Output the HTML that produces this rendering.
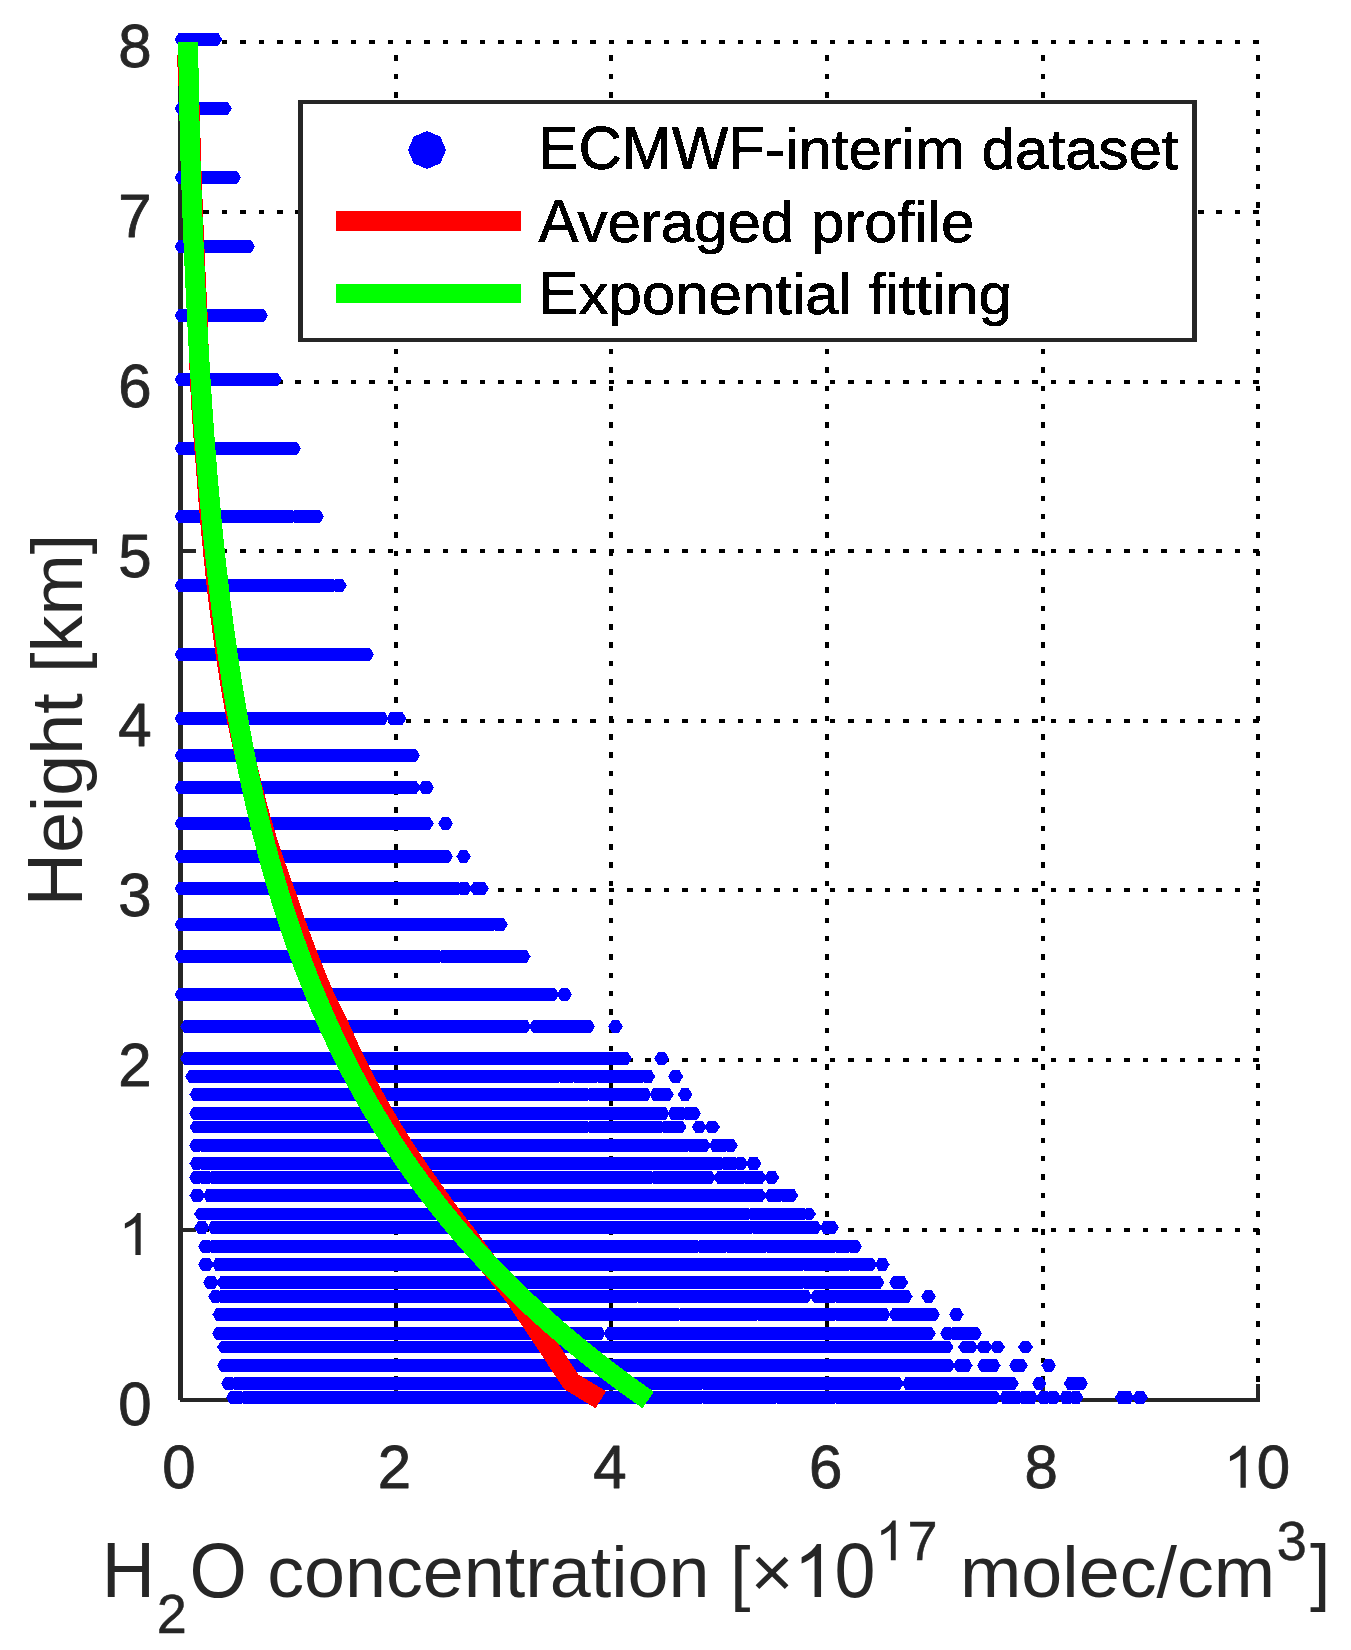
<!DOCTYPE html>
<html lang="en"><head><meta charset="utf-8"><title>H2O concentration profile</title>
<style>html,body{margin:0;padding:0;background:#fff}body{width:1351px;height:1650px;overflow:hidden;font-family:"Liberation Sans",sans-serif}svg{display:block}</style></head>
<body>
<svg width="1351" height="1650" viewBox="0 0 1351 1650" font-family="'Liberation Sans', sans-serif">
<g fill="#000" shape-rendering="crispEdges">
<rect x="184.94" y="1228.00" width="5.50" height="4"/><rect x="203.36" y="1228.00" width="5.50" height="4"/><rect x="221.78" y="1228.00" width="5.50" height="4"/><rect x="240.20" y="1228.00" width="5.50" height="4"/><rect x="258.62" y="1228.00" width="5.50" height="4"/><rect x="277.04" y="1228.00" width="5.50" height="4"/><rect x="295.46" y="1228.00" width="5.50" height="4"/><rect x="313.88" y="1228.00" width="5.50" height="4"/><rect x="332.30" y="1228.00" width="5.50" height="4"/><rect x="350.72" y="1228.00" width="5.50" height="4"/><rect x="369.14" y="1228.00" width="5.50" height="4"/><rect x="387.56" y="1228.00" width="5.50" height="4"/><rect x="405.98" y="1228.00" width="5.50" height="4"/><rect x="424.39" y="1228.00" width="5.50" height="4"/><rect x="442.81" y="1228.00" width="5.50" height="4"/><rect x="461.23" y="1228.00" width="5.50" height="4"/><rect x="479.65" y="1228.00" width="5.50" height="4"/><rect x="498.07" y="1228.00" width="5.50" height="4"/><rect x="516.49" y="1228.00" width="5.50" height="4"/><rect x="534.91" y="1228.00" width="5.50" height="4"/><rect x="553.33" y="1228.00" width="5.50" height="4"/><rect x="571.75" y="1228.00" width="5.50" height="4"/><rect x="590.17" y="1228.00" width="5.50" height="4"/><rect x="608.59" y="1228.00" width="5.50" height="4"/><rect x="627.01" y="1228.00" width="5.50" height="4"/><rect x="645.43" y="1228.00" width="5.50" height="4"/><rect x="663.85" y="1228.00" width="5.50" height="4"/><rect x="682.27" y="1228.00" width="5.50" height="4"/><rect x="700.69" y="1228.00" width="5.50" height="4"/><rect x="719.11" y="1228.00" width="5.50" height="4"/><rect x="737.53" y="1228.00" width="5.50" height="4"/><rect x="755.95" y="1228.00" width="5.50" height="4"/><rect x="774.37" y="1228.00" width="5.50" height="4"/><rect x="792.79" y="1228.00" width="5.50" height="4"/><rect x="811.20" y="1228.00" width="5.50" height="4"/><rect x="829.62" y="1228.00" width="5.50" height="4"/><rect x="848.04" y="1228.00" width="5.50" height="4"/><rect x="866.46" y="1228.00" width="5.50" height="4"/><rect x="884.88" y="1228.00" width="5.50" height="4"/><rect x="903.30" y="1228.00" width="5.50" height="4"/><rect x="921.72" y="1228.00" width="5.50" height="4"/><rect x="940.14" y="1228.00" width="5.50" height="4"/><rect x="958.56" y="1228.00" width="5.50" height="4"/><rect x="976.98" y="1228.00" width="5.50" height="4"/><rect x="995.40" y="1228.00" width="5.50" height="4"/><rect x="1013.82" y="1228.00" width="5.50" height="4"/><rect x="1032.24" y="1228.00" width="5.50" height="4"/><rect x="1050.66" y="1228.00" width="5.50" height="4"/><rect x="1069.08" y="1228.00" width="5.50" height="4"/><rect x="1087.50" y="1228.00" width="5.50" height="4"/><rect x="1105.92" y="1228.00" width="5.50" height="4"/><rect x="1124.34" y="1228.00" width="5.50" height="4"/><rect x="1142.76" y="1228.00" width="5.50" height="4"/><rect x="1161.17" y="1228.00" width="5.50" height="4"/><rect x="1179.59" y="1228.00" width="5.50" height="4"/><rect x="1198.01" y="1228.00" width="5.50" height="4"/><rect x="1216.43" y="1228.00" width="5.50" height="4"/><rect x="1234.85" y="1228.00" width="5.50" height="4"/><rect x="1253.27" y="1228.00" width="5.50" height="4"/>
<rect x="184.94" y="1058.00" width="5.50" height="4"/><rect x="203.36" y="1058.00" width="5.50" height="4"/><rect x="221.78" y="1058.00" width="5.50" height="4"/><rect x="240.20" y="1058.00" width="5.50" height="4"/><rect x="258.62" y="1058.00" width="5.50" height="4"/><rect x="277.04" y="1058.00" width="5.50" height="4"/><rect x="295.46" y="1058.00" width="5.50" height="4"/><rect x="313.88" y="1058.00" width="5.50" height="4"/><rect x="332.30" y="1058.00" width="5.50" height="4"/><rect x="350.72" y="1058.00" width="5.50" height="4"/><rect x="369.14" y="1058.00" width="5.50" height="4"/><rect x="387.56" y="1058.00" width="5.50" height="4"/><rect x="405.98" y="1058.00" width="5.50" height="4"/><rect x="424.39" y="1058.00" width="5.50" height="4"/><rect x="442.81" y="1058.00" width="5.50" height="4"/><rect x="461.23" y="1058.00" width="5.50" height="4"/><rect x="479.65" y="1058.00" width="5.50" height="4"/><rect x="498.07" y="1058.00" width="5.50" height="4"/><rect x="516.49" y="1058.00" width="5.50" height="4"/><rect x="534.91" y="1058.00" width="5.50" height="4"/><rect x="553.33" y="1058.00" width="5.50" height="4"/><rect x="571.75" y="1058.00" width="5.50" height="4"/><rect x="590.17" y="1058.00" width="5.50" height="4"/><rect x="608.59" y="1058.00" width="5.50" height="4"/><rect x="627.01" y="1058.00" width="5.50" height="4"/><rect x="645.43" y="1058.00" width="5.50" height="4"/><rect x="663.85" y="1058.00" width="5.50" height="4"/><rect x="682.27" y="1058.00" width="5.50" height="4"/><rect x="700.69" y="1058.00" width="5.50" height="4"/><rect x="719.11" y="1058.00" width="5.50" height="4"/><rect x="737.53" y="1058.00" width="5.50" height="4"/><rect x="755.95" y="1058.00" width="5.50" height="4"/><rect x="774.37" y="1058.00" width="5.50" height="4"/><rect x="792.79" y="1058.00" width="5.50" height="4"/><rect x="811.20" y="1058.00" width="5.50" height="4"/><rect x="829.62" y="1058.00" width="5.50" height="4"/><rect x="848.04" y="1058.00" width="5.50" height="4"/><rect x="866.46" y="1058.00" width="5.50" height="4"/><rect x="884.88" y="1058.00" width="5.50" height="4"/><rect x="903.30" y="1058.00" width="5.50" height="4"/><rect x="921.72" y="1058.00" width="5.50" height="4"/><rect x="940.14" y="1058.00" width="5.50" height="4"/><rect x="958.56" y="1058.00" width="5.50" height="4"/><rect x="976.98" y="1058.00" width="5.50" height="4"/><rect x="995.40" y="1058.00" width="5.50" height="4"/><rect x="1013.82" y="1058.00" width="5.50" height="4"/><rect x="1032.24" y="1058.00" width="5.50" height="4"/><rect x="1050.66" y="1058.00" width="5.50" height="4"/><rect x="1069.08" y="1058.00" width="5.50" height="4"/><rect x="1087.50" y="1058.00" width="5.50" height="4"/><rect x="1105.92" y="1058.00" width="5.50" height="4"/><rect x="1124.34" y="1058.00" width="5.50" height="4"/><rect x="1142.76" y="1058.00" width="5.50" height="4"/><rect x="1161.17" y="1058.00" width="5.50" height="4"/><rect x="1179.59" y="1058.00" width="5.50" height="4"/><rect x="1198.01" y="1058.00" width="5.50" height="4"/><rect x="1216.43" y="1058.00" width="5.50" height="4"/><rect x="1234.85" y="1058.00" width="5.50" height="4"/><rect x="1253.27" y="1058.00" width="5.50" height="4"/>
<rect x="184.94" y="888.00" width="5.50" height="4"/><rect x="203.36" y="888.00" width="5.50" height="4"/><rect x="221.78" y="888.00" width="5.50" height="4"/><rect x="240.20" y="888.00" width="5.50" height="4"/><rect x="258.62" y="888.00" width="5.50" height="4"/><rect x="277.04" y="888.00" width="5.50" height="4"/><rect x="295.46" y="888.00" width="5.50" height="4"/><rect x="313.88" y="888.00" width="5.50" height="4"/><rect x="332.30" y="888.00" width="5.50" height="4"/><rect x="350.72" y="888.00" width="5.50" height="4"/><rect x="369.14" y="888.00" width="5.50" height="4"/><rect x="387.56" y="888.00" width="5.50" height="4"/><rect x="405.98" y="888.00" width="5.50" height="4"/><rect x="424.39" y="888.00" width="5.50" height="4"/><rect x="442.81" y="888.00" width="5.50" height="4"/><rect x="461.23" y="888.00" width="5.50" height="4"/><rect x="479.65" y="888.00" width="5.50" height="4"/><rect x="498.07" y="888.00" width="5.50" height="4"/><rect x="516.49" y="888.00" width="5.50" height="4"/><rect x="534.91" y="888.00" width="5.50" height="4"/><rect x="553.33" y="888.00" width="5.50" height="4"/><rect x="571.75" y="888.00" width="5.50" height="4"/><rect x="590.17" y="888.00" width="5.50" height="4"/><rect x="608.59" y="888.00" width="5.50" height="4"/><rect x="627.01" y="888.00" width="5.50" height="4"/><rect x="645.43" y="888.00" width="5.50" height="4"/><rect x="663.85" y="888.00" width="5.50" height="4"/><rect x="682.27" y="888.00" width="5.50" height="4"/><rect x="700.69" y="888.00" width="5.50" height="4"/><rect x="719.11" y="888.00" width="5.50" height="4"/><rect x="737.53" y="888.00" width="5.50" height="4"/><rect x="755.95" y="888.00" width="5.50" height="4"/><rect x="774.37" y="888.00" width="5.50" height="4"/><rect x="792.79" y="888.00" width="5.50" height="4"/><rect x="811.20" y="888.00" width="5.50" height="4"/><rect x="829.62" y="888.00" width="5.50" height="4"/><rect x="848.04" y="888.00" width="5.50" height="4"/><rect x="866.46" y="888.00" width="5.50" height="4"/><rect x="884.88" y="888.00" width="5.50" height="4"/><rect x="903.30" y="888.00" width="5.50" height="4"/><rect x="921.72" y="888.00" width="5.50" height="4"/><rect x="940.14" y="888.00" width="5.50" height="4"/><rect x="958.56" y="888.00" width="5.50" height="4"/><rect x="976.98" y="888.00" width="5.50" height="4"/><rect x="995.40" y="888.00" width="5.50" height="4"/><rect x="1013.82" y="888.00" width="5.50" height="4"/><rect x="1032.24" y="888.00" width="5.50" height="4"/><rect x="1050.66" y="888.00" width="5.50" height="4"/><rect x="1069.08" y="888.00" width="5.50" height="4"/><rect x="1087.50" y="888.00" width="5.50" height="4"/><rect x="1105.92" y="888.00" width="5.50" height="4"/><rect x="1124.34" y="888.00" width="5.50" height="4"/><rect x="1142.76" y="888.00" width="5.50" height="4"/><rect x="1161.17" y="888.00" width="5.50" height="4"/><rect x="1179.59" y="888.00" width="5.50" height="4"/><rect x="1198.01" y="888.00" width="5.50" height="4"/><rect x="1216.43" y="888.00" width="5.50" height="4"/><rect x="1234.85" y="888.00" width="5.50" height="4"/><rect x="1253.27" y="888.00" width="5.50" height="4"/>
<rect x="184.94" y="719.00" width="5.50" height="4"/><rect x="203.36" y="719.00" width="5.50" height="4"/><rect x="221.78" y="719.00" width="5.50" height="4"/><rect x="240.20" y="719.00" width="5.50" height="4"/><rect x="258.62" y="719.00" width="5.50" height="4"/><rect x="277.04" y="719.00" width="5.50" height="4"/><rect x="295.46" y="719.00" width="5.50" height="4"/><rect x="313.88" y="719.00" width="5.50" height="4"/><rect x="332.30" y="719.00" width="5.50" height="4"/><rect x="350.72" y="719.00" width="5.50" height="4"/><rect x="369.14" y="719.00" width="5.50" height="4"/><rect x="387.56" y="719.00" width="5.50" height="4"/><rect x="405.98" y="719.00" width="5.50" height="4"/><rect x="424.39" y="719.00" width="5.50" height="4"/><rect x="442.81" y="719.00" width="5.50" height="4"/><rect x="461.23" y="719.00" width="5.50" height="4"/><rect x="479.65" y="719.00" width="5.50" height="4"/><rect x="498.07" y="719.00" width="5.50" height="4"/><rect x="516.49" y="719.00" width="5.50" height="4"/><rect x="534.91" y="719.00" width="5.50" height="4"/><rect x="553.33" y="719.00" width="5.50" height="4"/><rect x="571.75" y="719.00" width="5.50" height="4"/><rect x="590.17" y="719.00" width="5.50" height="4"/><rect x="608.59" y="719.00" width="5.50" height="4"/><rect x="627.01" y="719.00" width="5.50" height="4"/><rect x="645.43" y="719.00" width="5.50" height="4"/><rect x="663.85" y="719.00" width="5.50" height="4"/><rect x="682.27" y="719.00" width="5.50" height="4"/><rect x="700.69" y="719.00" width="5.50" height="4"/><rect x="719.11" y="719.00" width="5.50" height="4"/><rect x="737.53" y="719.00" width="5.50" height="4"/><rect x="755.95" y="719.00" width="5.50" height="4"/><rect x="774.37" y="719.00" width="5.50" height="4"/><rect x="792.79" y="719.00" width="5.50" height="4"/><rect x="811.20" y="719.00" width="5.50" height="4"/><rect x="829.62" y="719.00" width="5.50" height="4"/><rect x="848.04" y="719.00" width="5.50" height="4"/><rect x="866.46" y="719.00" width="5.50" height="4"/><rect x="884.88" y="719.00" width="5.50" height="4"/><rect x="903.30" y="719.00" width="5.50" height="4"/><rect x="921.72" y="719.00" width="5.50" height="4"/><rect x="940.14" y="719.00" width="5.50" height="4"/><rect x="958.56" y="719.00" width="5.50" height="4"/><rect x="976.98" y="719.00" width="5.50" height="4"/><rect x="995.40" y="719.00" width="5.50" height="4"/><rect x="1013.82" y="719.00" width="5.50" height="4"/><rect x="1032.24" y="719.00" width="5.50" height="4"/><rect x="1050.66" y="719.00" width="5.50" height="4"/><rect x="1069.08" y="719.00" width="5.50" height="4"/><rect x="1087.50" y="719.00" width="5.50" height="4"/><rect x="1105.92" y="719.00" width="5.50" height="4"/><rect x="1124.34" y="719.00" width="5.50" height="4"/><rect x="1142.76" y="719.00" width="5.50" height="4"/><rect x="1161.17" y="719.00" width="5.50" height="4"/><rect x="1179.59" y="719.00" width="5.50" height="4"/><rect x="1198.01" y="719.00" width="5.50" height="4"/><rect x="1216.43" y="719.00" width="5.50" height="4"/><rect x="1234.85" y="719.00" width="5.50" height="4"/><rect x="1253.27" y="719.00" width="5.50" height="4"/>
<rect x="184.94" y="549.00" width="5.50" height="4"/><rect x="203.36" y="549.00" width="5.50" height="4"/><rect x="221.78" y="549.00" width="5.50" height="4"/><rect x="240.20" y="549.00" width="5.50" height="4"/><rect x="258.62" y="549.00" width="5.50" height="4"/><rect x="277.04" y="549.00" width="5.50" height="4"/><rect x="295.46" y="549.00" width="5.50" height="4"/><rect x="313.88" y="549.00" width="5.50" height="4"/><rect x="332.30" y="549.00" width="5.50" height="4"/><rect x="350.72" y="549.00" width="5.50" height="4"/><rect x="369.14" y="549.00" width="5.50" height="4"/><rect x="387.56" y="549.00" width="5.50" height="4"/><rect x="405.98" y="549.00" width="5.50" height="4"/><rect x="424.39" y="549.00" width="5.50" height="4"/><rect x="442.81" y="549.00" width="5.50" height="4"/><rect x="461.23" y="549.00" width="5.50" height="4"/><rect x="479.65" y="549.00" width="5.50" height="4"/><rect x="498.07" y="549.00" width="5.50" height="4"/><rect x="516.49" y="549.00" width="5.50" height="4"/><rect x="534.91" y="549.00" width="5.50" height="4"/><rect x="553.33" y="549.00" width="5.50" height="4"/><rect x="571.75" y="549.00" width="5.50" height="4"/><rect x="590.17" y="549.00" width="5.50" height="4"/><rect x="608.59" y="549.00" width="5.50" height="4"/><rect x="627.01" y="549.00" width="5.50" height="4"/><rect x="645.43" y="549.00" width="5.50" height="4"/><rect x="663.85" y="549.00" width="5.50" height="4"/><rect x="682.27" y="549.00" width="5.50" height="4"/><rect x="700.69" y="549.00" width="5.50" height="4"/><rect x="719.11" y="549.00" width="5.50" height="4"/><rect x="737.53" y="549.00" width="5.50" height="4"/><rect x="755.95" y="549.00" width="5.50" height="4"/><rect x="774.37" y="549.00" width="5.50" height="4"/><rect x="792.79" y="549.00" width="5.50" height="4"/><rect x="811.20" y="549.00" width="5.50" height="4"/><rect x="829.62" y="549.00" width="5.50" height="4"/><rect x="848.04" y="549.00" width="5.50" height="4"/><rect x="866.46" y="549.00" width="5.50" height="4"/><rect x="884.88" y="549.00" width="5.50" height="4"/><rect x="903.30" y="549.00" width="5.50" height="4"/><rect x="921.72" y="549.00" width="5.50" height="4"/><rect x="940.14" y="549.00" width="5.50" height="4"/><rect x="958.56" y="549.00" width="5.50" height="4"/><rect x="976.98" y="549.00" width="5.50" height="4"/><rect x="995.40" y="549.00" width="5.50" height="4"/><rect x="1013.82" y="549.00" width="5.50" height="4"/><rect x="1032.24" y="549.00" width="5.50" height="4"/><rect x="1050.66" y="549.00" width="5.50" height="4"/><rect x="1069.08" y="549.00" width="5.50" height="4"/><rect x="1087.50" y="549.00" width="5.50" height="4"/><rect x="1105.92" y="549.00" width="5.50" height="4"/><rect x="1124.34" y="549.00" width="5.50" height="4"/><rect x="1142.76" y="549.00" width="5.50" height="4"/><rect x="1161.17" y="549.00" width="5.50" height="4"/><rect x="1179.59" y="549.00" width="5.50" height="4"/><rect x="1198.01" y="549.00" width="5.50" height="4"/><rect x="1216.43" y="549.00" width="5.50" height="4"/><rect x="1234.85" y="549.00" width="5.50" height="4"/><rect x="1253.27" y="549.00" width="5.50" height="4"/>
<rect x="184.94" y="380.00" width="5.50" height="4"/><rect x="203.36" y="380.00" width="5.50" height="4"/><rect x="221.78" y="380.00" width="5.50" height="4"/><rect x="240.20" y="380.00" width="5.50" height="4"/><rect x="258.62" y="380.00" width="5.50" height="4"/><rect x="277.04" y="380.00" width="5.50" height="4"/><rect x="295.46" y="380.00" width="5.50" height="4"/><rect x="313.88" y="380.00" width="5.50" height="4"/><rect x="332.30" y="380.00" width="5.50" height="4"/><rect x="350.72" y="380.00" width="5.50" height="4"/><rect x="369.14" y="380.00" width="5.50" height="4"/><rect x="387.56" y="380.00" width="5.50" height="4"/><rect x="405.98" y="380.00" width="5.50" height="4"/><rect x="424.39" y="380.00" width="5.50" height="4"/><rect x="442.81" y="380.00" width="5.50" height="4"/><rect x="461.23" y="380.00" width="5.50" height="4"/><rect x="479.65" y="380.00" width="5.50" height="4"/><rect x="498.07" y="380.00" width="5.50" height="4"/><rect x="516.49" y="380.00" width="5.50" height="4"/><rect x="534.91" y="380.00" width="5.50" height="4"/><rect x="553.33" y="380.00" width="5.50" height="4"/><rect x="571.75" y="380.00" width="5.50" height="4"/><rect x="590.17" y="380.00" width="5.50" height="4"/><rect x="608.59" y="380.00" width="5.50" height="4"/><rect x="627.01" y="380.00" width="5.50" height="4"/><rect x="645.43" y="380.00" width="5.50" height="4"/><rect x="663.85" y="380.00" width="5.50" height="4"/><rect x="682.27" y="380.00" width="5.50" height="4"/><rect x="700.69" y="380.00" width="5.50" height="4"/><rect x="719.11" y="380.00" width="5.50" height="4"/><rect x="737.53" y="380.00" width="5.50" height="4"/><rect x="755.95" y="380.00" width="5.50" height="4"/><rect x="774.37" y="380.00" width="5.50" height="4"/><rect x="792.79" y="380.00" width="5.50" height="4"/><rect x="811.20" y="380.00" width="5.50" height="4"/><rect x="829.62" y="380.00" width="5.50" height="4"/><rect x="848.04" y="380.00" width="5.50" height="4"/><rect x="866.46" y="380.00" width="5.50" height="4"/><rect x="884.88" y="380.00" width="5.50" height="4"/><rect x="903.30" y="380.00" width="5.50" height="4"/><rect x="921.72" y="380.00" width="5.50" height="4"/><rect x="940.14" y="380.00" width="5.50" height="4"/><rect x="958.56" y="380.00" width="5.50" height="4"/><rect x="976.98" y="380.00" width="5.50" height="4"/><rect x="995.40" y="380.00" width="5.50" height="4"/><rect x="1013.82" y="380.00" width="5.50" height="4"/><rect x="1032.24" y="380.00" width="5.50" height="4"/><rect x="1050.66" y="380.00" width="5.50" height="4"/><rect x="1069.08" y="380.00" width="5.50" height="4"/><rect x="1087.50" y="380.00" width="5.50" height="4"/><rect x="1105.92" y="380.00" width="5.50" height="4"/><rect x="1124.34" y="380.00" width="5.50" height="4"/><rect x="1142.76" y="380.00" width="5.50" height="4"/><rect x="1161.17" y="380.00" width="5.50" height="4"/><rect x="1179.59" y="380.00" width="5.50" height="4"/><rect x="1198.01" y="380.00" width="5.50" height="4"/><rect x="1216.43" y="380.00" width="5.50" height="4"/><rect x="1234.85" y="380.00" width="5.50" height="4"/><rect x="1253.27" y="380.00" width="5.50" height="4"/>
<rect x="184.94" y="210.00" width="5.50" height="4"/><rect x="203.36" y="210.00" width="5.50" height="4"/><rect x="221.78" y="210.00" width="5.50" height="4"/><rect x="240.20" y="210.00" width="5.50" height="4"/><rect x="258.62" y="210.00" width="5.50" height="4"/><rect x="277.04" y="210.00" width="5.50" height="4"/><rect x="295.46" y="210.00" width="5.50" height="4"/><rect x="313.88" y="210.00" width="5.50" height="4"/><rect x="332.30" y="210.00" width="5.50" height="4"/><rect x="350.72" y="210.00" width="5.50" height="4"/><rect x="369.14" y="210.00" width="5.50" height="4"/><rect x="387.56" y="210.00" width="5.50" height="4"/><rect x="405.98" y="210.00" width="5.50" height="4"/><rect x="424.39" y="210.00" width="5.50" height="4"/><rect x="442.81" y="210.00" width="5.50" height="4"/><rect x="461.23" y="210.00" width="5.50" height="4"/><rect x="479.65" y="210.00" width="5.50" height="4"/><rect x="498.07" y="210.00" width="5.50" height="4"/><rect x="516.49" y="210.00" width="5.50" height="4"/><rect x="534.91" y="210.00" width="5.50" height="4"/><rect x="553.33" y="210.00" width="5.50" height="4"/><rect x="571.75" y="210.00" width="5.50" height="4"/><rect x="590.17" y="210.00" width="5.50" height="4"/><rect x="608.59" y="210.00" width="5.50" height="4"/><rect x="627.01" y="210.00" width="5.50" height="4"/><rect x="645.43" y="210.00" width="5.50" height="4"/><rect x="663.85" y="210.00" width="5.50" height="4"/><rect x="682.27" y="210.00" width="5.50" height="4"/><rect x="700.69" y="210.00" width="5.50" height="4"/><rect x="719.11" y="210.00" width="5.50" height="4"/><rect x="737.53" y="210.00" width="5.50" height="4"/><rect x="755.95" y="210.00" width="5.50" height="4"/><rect x="774.37" y="210.00" width="5.50" height="4"/><rect x="792.79" y="210.00" width="5.50" height="4"/><rect x="811.20" y="210.00" width="5.50" height="4"/><rect x="829.62" y="210.00" width="5.50" height="4"/><rect x="848.04" y="210.00" width="5.50" height="4"/><rect x="866.46" y="210.00" width="5.50" height="4"/><rect x="884.88" y="210.00" width="5.50" height="4"/><rect x="903.30" y="210.00" width="5.50" height="4"/><rect x="921.72" y="210.00" width="5.50" height="4"/><rect x="940.14" y="210.00" width="5.50" height="4"/><rect x="958.56" y="210.00" width="5.50" height="4"/><rect x="976.98" y="210.00" width="5.50" height="4"/><rect x="995.40" y="210.00" width="5.50" height="4"/><rect x="1013.82" y="210.00" width="5.50" height="4"/><rect x="1032.24" y="210.00" width="5.50" height="4"/><rect x="1050.66" y="210.00" width="5.50" height="4"/><rect x="1069.08" y="210.00" width="5.50" height="4"/><rect x="1087.50" y="210.00" width="5.50" height="4"/><rect x="1105.92" y="210.00" width="5.50" height="4"/><rect x="1124.34" y="210.00" width="5.50" height="4"/><rect x="1142.76" y="210.00" width="5.50" height="4"/><rect x="1161.17" y="210.00" width="5.50" height="4"/><rect x="1179.59" y="210.00" width="5.50" height="4"/><rect x="1198.01" y="210.00" width="5.50" height="4"/><rect x="1216.43" y="210.00" width="5.50" height="4"/><rect x="1234.85" y="210.00" width="5.50" height="4"/><rect x="1253.27" y="210.00" width="5.50" height="4"/>
<rect x="184.94" y="40.00" width="5.50" height="4"/><rect x="203.36" y="40.00" width="5.50" height="4"/><rect x="221.78" y="40.00" width="5.50" height="4"/><rect x="240.20" y="40.00" width="5.50" height="4"/><rect x="258.62" y="40.00" width="5.50" height="4"/><rect x="277.04" y="40.00" width="5.50" height="4"/><rect x="295.46" y="40.00" width="5.50" height="4"/><rect x="313.88" y="40.00" width="5.50" height="4"/><rect x="332.30" y="40.00" width="5.50" height="4"/><rect x="350.72" y="40.00" width="5.50" height="4"/><rect x="369.14" y="40.00" width="5.50" height="4"/><rect x="387.56" y="40.00" width="5.50" height="4"/><rect x="405.98" y="40.00" width="5.50" height="4"/><rect x="424.39" y="40.00" width="5.50" height="4"/><rect x="442.81" y="40.00" width="5.50" height="4"/><rect x="461.23" y="40.00" width="5.50" height="4"/><rect x="479.65" y="40.00" width="5.50" height="4"/><rect x="498.07" y="40.00" width="5.50" height="4"/><rect x="516.49" y="40.00" width="5.50" height="4"/><rect x="534.91" y="40.00" width="5.50" height="4"/><rect x="553.33" y="40.00" width="5.50" height="4"/><rect x="571.75" y="40.00" width="5.50" height="4"/><rect x="590.17" y="40.00" width="5.50" height="4"/><rect x="608.59" y="40.00" width="5.50" height="4"/><rect x="627.01" y="40.00" width="5.50" height="4"/><rect x="645.43" y="40.00" width="5.50" height="4"/><rect x="663.85" y="40.00" width="5.50" height="4"/><rect x="682.27" y="40.00" width="5.50" height="4"/><rect x="700.69" y="40.00" width="5.50" height="4"/><rect x="719.11" y="40.00" width="5.50" height="4"/><rect x="737.53" y="40.00" width="5.50" height="4"/><rect x="755.95" y="40.00" width="5.50" height="4"/><rect x="774.37" y="40.00" width="5.50" height="4"/><rect x="792.79" y="40.00" width="5.50" height="4"/><rect x="811.20" y="40.00" width="5.50" height="4"/><rect x="829.62" y="40.00" width="5.50" height="4"/><rect x="848.04" y="40.00" width="5.50" height="4"/><rect x="866.46" y="40.00" width="5.50" height="4"/><rect x="884.88" y="40.00" width="5.50" height="4"/><rect x="903.30" y="40.00" width="5.50" height="4"/><rect x="921.72" y="40.00" width="5.50" height="4"/><rect x="940.14" y="40.00" width="5.50" height="4"/><rect x="958.56" y="40.00" width="5.50" height="4"/><rect x="976.98" y="40.00" width="5.50" height="4"/><rect x="995.40" y="40.00" width="5.50" height="4"/><rect x="1013.82" y="40.00" width="5.50" height="4"/><rect x="1032.24" y="40.00" width="5.50" height="4"/><rect x="1050.66" y="40.00" width="5.50" height="4"/><rect x="1069.08" y="40.00" width="5.50" height="4"/><rect x="1087.50" y="40.00" width="5.50" height="4"/><rect x="1105.92" y="40.00" width="5.50" height="4"/><rect x="1124.34" y="40.00" width="5.50" height="4"/><rect x="1142.76" y="40.00" width="5.50" height="4"/><rect x="1161.17" y="40.00" width="5.50" height="4"/><rect x="1179.59" y="40.00" width="5.50" height="4"/><rect x="1198.01" y="40.00" width="5.50" height="4"/><rect x="1216.43" y="40.00" width="5.50" height="4"/><rect x="1234.85" y="40.00" width="5.50" height="4"/><rect x="1253.27" y="40.00" width="5.50" height="4"/>
<rect x="394.00" y="55.40" width="4" height="5.50"/><rect x="394.00" y="73.74" width="4" height="5.50"/><rect x="394.00" y="92.09" width="4" height="5.50"/><rect x="394.00" y="110.43" width="4" height="5.50"/><rect x="394.00" y="128.77" width="4" height="5.50"/><rect x="394.00" y="147.12" width="4" height="5.50"/><rect x="394.00" y="165.46" width="4" height="5.50"/><rect x="394.00" y="183.80" width="4" height="5.50"/><rect x="394.00" y="202.14" width="4" height="5.50"/><rect x="394.00" y="220.49" width="4" height="5.50"/><rect x="394.00" y="238.83" width="4" height="5.50"/><rect x="394.00" y="257.17" width="4" height="5.50"/><rect x="394.00" y="275.52" width="4" height="5.50"/><rect x="394.00" y="293.86" width="4" height="5.50"/><rect x="394.00" y="312.20" width="4" height="5.50"/><rect x="394.00" y="330.54" width="4" height="5.50"/><rect x="394.00" y="348.89" width="4" height="5.50"/><rect x="394.00" y="367.23" width="4" height="5.50"/><rect x="394.00" y="385.57" width="4" height="5.50"/><rect x="394.00" y="403.92" width="4" height="5.50"/><rect x="394.00" y="422.26" width="4" height="5.50"/><rect x="394.00" y="440.60" width="4" height="5.50"/><rect x="394.00" y="458.95" width="4" height="5.50"/><rect x="394.00" y="477.29" width="4" height="5.50"/><rect x="394.00" y="495.63" width="4" height="5.50"/><rect x="394.00" y="513.98" width="4" height="5.50"/><rect x="394.00" y="532.32" width="4" height="5.50"/><rect x="394.00" y="550.66" width="4" height="5.50"/><rect x="394.00" y="569.00" width="4" height="5.50"/><rect x="394.00" y="587.35" width="4" height="5.50"/><rect x="394.00" y="605.69" width="4" height="5.50"/><rect x="394.00" y="624.03" width="4" height="5.50"/><rect x="394.00" y="642.38" width="4" height="5.50"/><rect x="394.00" y="660.72" width="4" height="5.50"/><rect x="394.00" y="679.06" width="4" height="5.50"/><rect x="394.00" y="697.40" width="4" height="5.50"/><rect x="394.00" y="715.75" width="4" height="5.50"/><rect x="394.00" y="734.09" width="4" height="5.50"/><rect x="394.00" y="752.43" width="4" height="5.50"/><rect x="394.00" y="770.78" width="4" height="5.50"/><rect x="394.00" y="789.12" width="4" height="5.50"/><rect x="394.00" y="807.46" width="4" height="5.50"/><rect x="394.00" y="825.81" width="4" height="5.50"/><rect x="394.00" y="844.15" width="4" height="5.50"/><rect x="394.00" y="862.49" width="4" height="5.50"/><rect x="394.00" y="880.83" width="4" height="5.50"/><rect x="394.00" y="899.18" width="4" height="5.50"/><rect x="394.00" y="917.52" width="4" height="5.50"/><rect x="394.00" y="935.86" width="4" height="5.50"/><rect x="394.00" y="954.21" width="4" height="5.50"/><rect x="394.00" y="972.55" width="4" height="5.50"/><rect x="394.00" y="990.89" width="4" height="5.50"/><rect x="394.00" y="1009.24" width="4" height="5.50"/><rect x="394.00" y="1027.58" width="4" height="5.50"/><rect x="394.00" y="1045.92" width="4" height="5.50"/><rect x="394.00" y="1064.27" width="4" height="5.50"/><rect x="394.00" y="1082.61" width="4" height="5.50"/><rect x="394.00" y="1100.95" width="4" height="5.50"/><rect x="394.00" y="1119.29" width="4" height="5.50"/><rect x="394.00" y="1137.64" width="4" height="5.50"/><rect x="394.00" y="1155.98" width="4" height="5.50"/><rect x="394.00" y="1174.32" width="4" height="5.50"/><rect x="394.00" y="1192.67" width="4" height="5.50"/><rect x="394.00" y="1211.01" width="4" height="5.50"/><rect x="394.00" y="1229.35" width="4" height="5.50"/><rect x="394.00" y="1247.70" width="4" height="5.50"/><rect x="394.00" y="1266.04" width="4" height="5.50"/><rect x="394.00" y="1284.38" width="4" height="5.50"/><rect x="394.00" y="1302.72" width="4" height="5.50"/><rect x="394.00" y="1321.07" width="4" height="5.50"/><rect x="394.00" y="1339.41" width="4" height="5.50"/><rect x="394.00" y="1357.75" width="4" height="5.50"/><rect x="394.00" y="1376.10" width="4" height="5.50"/><rect x="394.00" y="1394.44" width="4" height="3.56"/>
<rect x="609.00" y="55.40" width="4" height="5.50"/><rect x="609.00" y="73.74" width="4" height="5.50"/><rect x="609.00" y="92.09" width="4" height="5.50"/><rect x="609.00" y="110.43" width="4" height="5.50"/><rect x="609.00" y="128.77" width="4" height="5.50"/><rect x="609.00" y="147.12" width="4" height="5.50"/><rect x="609.00" y="165.46" width="4" height="5.50"/><rect x="609.00" y="183.80" width="4" height="5.50"/><rect x="609.00" y="202.14" width="4" height="5.50"/><rect x="609.00" y="220.49" width="4" height="5.50"/><rect x="609.00" y="238.83" width="4" height="5.50"/><rect x="609.00" y="257.17" width="4" height="5.50"/><rect x="609.00" y="275.52" width="4" height="5.50"/><rect x="609.00" y="293.86" width="4" height="5.50"/><rect x="609.00" y="312.20" width="4" height="5.50"/><rect x="609.00" y="330.54" width="4" height="5.50"/><rect x="609.00" y="348.89" width="4" height="5.50"/><rect x="609.00" y="367.23" width="4" height="5.50"/><rect x="609.00" y="385.57" width="4" height="5.50"/><rect x="609.00" y="403.92" width="4" height="5.50"/><rect x="609.00" y="422.26" width="4" height="5.50"/><rect x="609.00" y="440.60" width="4" height="5.50"/><rect x="609.00" y="458.95" width="4" height="5.50"/><rect x="609.00" y="477.29" width="4" height="5.50"/><rect x="609.00" y="495.63" width="4" height="5.50"/><rect x="609.00" y="513.98" width="4" height="5.50"/><rect x="609.00" y="532.32" width="4" height="5.50"/><rect x="609.00" y="550.66" width="4" height="5.50"/><rect x="609.00" y="569.00" width="4" height="5.50"/><rect x="609.00" y="587.35" width="4" height="5.50"/><rect x="609.00" y="605.69" width="4" height="5.50"/><rect x="609.00" y="624.03" width="4" height="5.50"/><rect x="609.00" y="642.38" width="4" height="5.50"/><rect x="609.00" y="660.72" width="4" height="5.50"/><rect x="609.00" y="679.06" width="4" height="5.50"/><rect x="609.00" y="697.40" width="4" height="5.50"/><rect x="609.00" y="715.75" width="4" height="5.50"/><rect x="609.00" y="734.09" width="4" height="5.50"/><rect x="609.00" y="752.43" width="4" height="5.50"/><rect x="609.00" y="770.78" width="4" height="5.50"/><rect x="609.00" y="789.12" width="4" height="5.50"/><rect x="609.00" y="807.46" width="4" height="5.50"/><rect x="609.00" y="825.81" width="4" height="5.50"/><rect x="609.00" y="844.15" width="4" height="5.50"/><rect x="609.00" y="862.49" width="4" height="5.50"/><rect x="609.00" y="880.83" width="4" height="5.50"/><rect x="609.00" y="899.18" width="4" height="5.50"/><rect x="609.00" y="917.52" width="4" height="5.50"/><rect x="609.00" y="935.86" width="4" height="5.50"/><rect x="609.00" y="954.21" width="4" height="5.50"/><rect x="609.00" y="972.55" width="4" height="5.50"/><rect x="609.00" y="990.89" width="4" height="5.50"/><rect x="609.00" y="1009.24" width="4" height="5.50"/><rect x="609.00" y="1027.58" width="4" height="5.50"/><rect x="609.00" y="1045.92" width="4" height="5.50"/><rect x="609.00" y="1064.27" width="4" height="5.50"/><rect x="609.00" y="1082.61" width="4" height="5.50"/><rect x="609.00" y="1100.95" width="4" height="5.50"/><rect x="609.00" y="1119.29" width="4" height="5.50"/><rect x="609.00" y="1137.64" width="4" height="5.50"/><rect x="609.00" y="1155.98" width="4" height="5.50"/><rect x="609.00" y="1174.32" width="4" height="5.50"/><rect x="609.00" y="1192.67" width="4" height="5.50"/><rect x="609.00" y="1211.01" width="4" height="5.50"/><rect x="609.00" y="1229.35" width="4" height="5.50"/><rect x="609.00" y="1247.70" width="4" height="5.50"/><rect x="609.00" y="1266.04" width="4" height="5.50"/><rect x="609.00" y="1284.38" width="4" height="5.50"/><rect x="609.00" y="1302.72" width="4" height="5.50"/><rect x="609.00" y="1321.07" width="4" height="5.50"/><rect x="609.00" y="1339.41" width="4" height="5.50"/><rect x="609.00" y="1357.75" width="4" height="5.50"/><rect x="609.00" y="1376.10" width="4" height="5.50"/><rect x="609.00" y="1394.44" width="4" height="3.56"/>
<rect x="825.00" y="55.40" width="4" height="5.50"/><rect x="825.00" y="73.74" width="4" height="5.50"/><rect x="825.00" y="92.09" width="4" height="5.50"/><rect x="825.00" y="110.43" width="4" height="5.50"/><rect x="825.00" y="128.77" width="4" height="5.50"/><rect x="825.00" y="147.12" width="4" height="5.50"/><rect x="825.00" y="165.46" width="4" height="5.50"/><rect x="825.00" y="183.80" width="4" height="5.50"/><rect x="825.00" y="202.14" width="4" height="5.50"/><rect x="825.00" y="220.49" width="4" height="5.50"/><rect x="825.00" y="238.83" width="4" height="5.50"/><rect x="825.00" y="257.17" width="4" height="5.50"/><rect x="825.00" y="275.52" width="4" height="5.50"/><rect x="825.00" y="293.86" width="4" height="5.50"/><rect x="825.00" y="312.20" width="4" height="5.50"/><rect x="825.00" y="330.54" width="4" height="5.50"/><rect x="825.00" y="348.89" width="4" height="5.50"/><rect x="825.00" y="367.23" width="4" height="5.50"/><rect x="825.00" y="385.57" width="4" height="5.50"/><rect x="825.00" y="403.92" width="4" height="5.50"/><rect x="825.00" y="422.26" width="4" height="5.50"/><rect x="825.00" y="440.60" width="4" height="5.50"/><rect x="825.00" y="458.95" width="4" height="5.50"/><rect x="825.00" y="477.29" width="4" height="5.50"/><rect x="825.00" y="495.63" width="4" height="5.50"/><rect x="825.00" y="513.98" width="4" height="5.50"/><rect x="825.00" y="532.32" width="4" height="5.50"/><rect x="825.00" y="550.66" width="4" height="5.50"/><rect x="825.00" y="569.00" width="4" height="5.50"/><rect x="825.00" y="587.35" width="4" height="5.50"/><rect x="825.00" y="605.69" width="4" height="5.50"/><rect x="825.00" y="624.03" width="4" height="5.50"/><rect x="825.00" y="642.38" width="4" height="5.50"/><rect x="825.00" y="660.72" width="4" height="5.50"/><rect x="825.00" y="679.06" width="4" height="5.50"/><rect x="825.00" y="697.40" width="4" height="5.50"/><rect x="825.00" y="715.75" width="4" height="5.50"/><rect x="825.00" y="734.09" width="4" height="5.50"/><rect x="825.00" y="752.43" width="4" height="5.50"/><rect x="825.00" y="770.78" width="4" height="5.50"/><rect x="825.00" y="789.12" width="4" height="5.50"/><rect x="825.00" y="807.46" width="4" height="5.50"/><rect x="825.00" y="825.81" width="4" height="5.50"/><rect x="825.00" y="844.15" width="4" height="5.50"/><rect x="825.00" y="862.49" width="4" height="5.50"/><rect x="825.00" y="880.83" width="4" height="5.50"/><rect x="825.00" y="899.18" width="4" height="5.50"/><rect x="825.00" y="917.52" width="4" height="5.50"/><rect x="825.00" y="935.86" width="4" height="5.50"/><rect x="825.00" y="954.21" width="4" height="5.50"/><rect x="825.00" y="972.55" width="4" height="5.50"/><rect x="825.00" y="990.89" width="4" height="5.50"/><rect x="825.00" y="1009.24" width="4" height="5.50"/><rect x="825.00" y="1027.58" width="4" height="5.50"/><rect x="825.00" y="1045.92" width="4" height="5.50"/><rect x="825.00" y="1064.27" width="4" height="5.50"/><rect x="825.00" y="1082.61" width="4" height="5.50"/><rect x="825.00" y="1100.95" width="4" height="5.50"/><rect x="825.00" y="1119.29" width="4" height="5.50"/><rect x="825.00" y="1137.64" width="4" height="5.50"/><rect x="825.00" y="1155.98" width="4" height="5.50"/><rect x="825.00" y="1174.32" width="4" height="5.50"/><rect x="825.00" y="1192.67" width="4" height="5.50"/><rect x="825.00" y="1211.01" width="4" height="5.50"/><rect x="825.00" y="1229.35" width="4" height="5.50"/><rect x="825.00" y="1247.70" width="4" height="5.50"/><rect x="825.00" y="1266.04" width="4" height="5.50"/><rect x="825.00" y="1284.38" width="4" height="5.50"/><rect x="825.00" y="1302.72" width="4" height="5.50"/><rect x="825.00" y="1321.07" width="4" height="5.50"/><rect x="825.00" y="1339.41" width="4" height="5.50"/><rect x="825.00" y="1357.75" width="4" height="5.50"/><rect x="825.00" y="1376.10" width="4" height="5.50"/><rect x="825.00" y="1394.44" width="4" height="3.56"/>
<rect x="1041.00" y="55.40" width="4" height="5.50"/><rect x="1041.00" y="73.74" width="4" height="5.50"/><rect x="1041.00" y="92.09" width="4" height="5.50"/><rect x="1041.00" y="110.43" width="4" height="5.50"/><rect x="1041.00" y="128.77" width="4" height="5.50"/><rect x="1041.00" y="147.12" width="4" height="5.50"/><rect x="1041.00" y="165.46" width="4" height="5.50"/><rect x="1041.00" y="183.80" width="4" height="5.50"/><rect x="1041.00" y="202.14" width="4" height="5.50"/><rect x="1041.00" y="220.49" width="4" height="5.50"/><rect x="1041.00" y="238.83" width="4" height="5.50"/><rect x="1041.00" y="257.17" width="4" height="5.50"/><rect x="1041.00" y="275.52" width="4" height="5.50"/><rect x="1041.00" y="293.86" width="4" height="5.50"/><rect x="1041.00" y="312.20" width="4" height="5.50"/><rect x="1041.00" y="330.54" width="4" height="5.50"/><rect x="1041.00" y="348.89" width="4" height="5.50"/><rect x="1041.00" y="367.23" width="4" height="5.50"/><rect x="1041.00" y="385.57" width="4" height="5.50"/><rect x="1041.00" y="403.92" width="4" height="5.50"/><rect x="1041.00" y="422.26" width="4" height="5.50"/><rect x="1041.00" y="440.60" width="4" height="5.50"/><rect x="1041.00" y="458.95" width="4" height="5.50"/><rect x="1041.00" y="477.29" width="4" height="5.50"/><rect x="1041.00" y="495.63" width="4" height="5.50"/><rect x="1041.00" y="513.98" width="4" height="5.50"/><rect x="1041.00" y="532.32" width="4" height="5.50"/><rect x="1041.00" y="550.66" width="4" height="5.50"/><rect x="1041.00" y="569.00" width="4" height="5.50"/><rect x="1041.00" y="587.35" width="4" height="5.50"/><rect x="1041.00" y="605.69" width="4" height="5.50"/><rect x="1041.00" y="624.03" width="4" height="5.50"/><rect x="1041.00" y="642.38" width="4" height="5.50"/><rect x="1041.00" y="660.72" width="4" height="5.50"/><rect x="1041.00" y="679.06" width="4" height="5.50"/><rect x="1041.00" y="697.40" width="4" height="5.50"/><rect x="1041.00" y="715.75" width="4" height="5.50"/><rect x="1041.00" y="734.09" width="4" height="5.50"/><rect x="1041.00" y="752.43" width="4" height="5.50"/><rect x="1041.00" y="770.78" width="4" height="5.50"/><rect x="1041.00" y="789.12" width="4" height="5.50"/><rect x="1041.00" y="807.46" width="4" height="5.50"/><rect x="1041.00" y="825.81" width="4" height="5.50"/><rect x="1041.00" y="844.15" width="4" height="5.50"/><rect x="1041.00" y="862.49" width="4" height="5.50"/><rect x="1041.00" y="880.83" width="4" height="5.50"/><rect x="1041.00" y="899.18" width="4" height="5.50"/><rect x="1041.00" y="917.52" width="4" height="5.50"/><rect x="1041.00" y="935.86" width="4" height="5.50"/><rect x="1041.00" y="954.21" width="4" height="5.50"/><rect x="1041.00" y="972.55" width="4" height="5.50"/><rect x="1041.00" y="990.89" width="4" height="5.50"/><rect x="1041.00" y="1009.24" width="4" height="5.50"/><rect x="1041.00" y="1027.58" width="4" height="5.50"/><rect x="1041.00" y="1045.92" width="4" height="5.50"/><rect x="1041.00" y="1064.27" width="4" height="5.50"/><rect x="1041.00" y="1082.61" width="4" height="5.50"/><rect x="1041.00" y="1100.95" width="4" height="5.50"/><rect x="1041.00" y="1119.29" width="4" height="5.50"/><rect x="1041.00" y="1137.64" width="4" height="5.50"/><rect x="1041.00" y="1155.98" width="4" height="5.50"/><rect x="1041.00" y="1174.32" width="4" height="5.50"/><rect x="1041.00" y="1192.67" width="4" height="5.50"/><rect x="1041.00" y="1211.01" width="4" height="5.50"/><rect x="1041.00" y="1229.35" width="4" height="5.50"/><rect x="1041.00" y="1247.70" width="4" height="5.50"/><rect x="1041.00" y="1266.04" width="4" height="5.50"/><rect x="1041.00" y="1284.38" width="4" height="5.50"/><rect x="1041.00" y="1302.72" width="4" height="5.50"/><rect x="1041.00" y="1321.07" width="4" height="5.50"/><rect x="1041.00" y="1339.41" width="4" height="5.50"/><rect x="1041.00" y="1357.75" width="4" height="5.50"/><rect x="1041.00" y="1376.10" width="4" height="5.50"/><rect x="1041.00" y="1394.44" width="4" height="3.56"/>
<rect x="1256.00" y="55.40" width="4" height="5.50"/><rect x="1256.00" y="73.74" width="4" height="5.50"/><rect x="1256.00" y="92.09" width="4" height="5.50"/><rect x="1256.00" y="110.43" width="4" height="5.50"/><rect x="1256.00" y="128.77" width="4" height="5.50"/><rect x="1256.00" y="147.12" width="4" height="5.50"/><rect x="1256.00" y="165.46" width="4" height="5.50"/><rect x="1256.00" y="183.80" width="4" height="5.50"/><rect x="1256.00" y="202.14" width="4" height="5.50"/><rect x="1256.00" y="220.49" width="4" height="5.50"/><rect x="1256.00" y="238.83" width="4" height="5.50"/><rect x="1256.00" y="257.17" width="4" height="5.50"/><rect x="1256.00" y="275.52" width="4" height="5.50"/><rect x="1256.00" y="293.86" width="4" height="5.50"/><rect x="1256.00" y="312.20" width="4" height="5.50"/><rect x="1256.00" y="330.54" width="4" height="5.50"/><rect x="1256.00" y="348.89" width="4" height="5.50"/><rect x="1256.00" y="367.23" width="4" height="5.50"/><rect x="1256.00" y="385.57" width="4" height="5.50"/><rect x="1256.00" y="403.92" width="4" height="5.50"/><rect x="1256.00" y="422.26" width="4" height="5.50"/><rect x="1256.00" y="440.60" width="4" height="5.50"/><rect x="1256.00" y="458.95" width="4" height="5.50"/><rect x="1256.00" y="477.29" width="4" height="5.50"/><rect x="1256.00" y="495.63" width="4" height="5.50"/><rect x="1256.00" y="513.98" width="4" height="5.50"/><rect x="1256.00" y="532.32" width="4" height="5.50"/><rect x="1256.00" y="550.66" width="4" height="5.50"/><rect x="1256.00" y="569.00" width="4" height="5.50"/><rect x="1256.00" y="587.35" width="4" height="5.50"/><rect x="1256.00" y="605.69" width="4" height="5.50"/><rect x="1256.00" y="624.03" width="4" height="5.50"/><rect x="1256.00" y="642.38" width="4" height="5.50"/><rect x="1256.00" y="660.72" width="4" height="5.50"/><rect x="1256.00" y="679.06" width="4" height="5.50"/><rect x="1256.00" y="697.40" width="4" height="5.50"/><rect x="1256.00" y="715.75" width="4" height="5.50"/><rect x="1256.00" y="734.09" width="4" height="5.50"/><rect x="1256.00" y="752.43" width="4" height="5.50"/><rect x="1256.00" y="770.78" width="4" height="5.50"/><rect x="1256.00" y="789.12" width="4" height="5.50"/><rect x="1256.00" y="807.46" width="4" height="5.50"/><rect x="1256.00" y="825.81" width="4" height="5.50"/><rect x="1256.00" y="844.15" width="4" height="5.50"/><rect x="1256.00" y="862.49" width="4" height="5.50"/><rect x="1256.00" y="880.83" width="4" height="5.50"/><rect x="1256.00" y="899.18" width="4" height="5.50"/><rect x="1256.00" y="917.52" width="4" height="5.50"/><rect x="1256.00" y="935.86" width="4" height="5.50"/><rect x="1256.00" y="954.21" width="4" height="5.50"/><rect x="1256.00" y="972.55" width="4" height="5.50"/><rect x="1256.00" y="990.89" width="4" height="5.50"/><rect x="1256.00" y="1009.24" width="4" height="5.50"/><rect x="1256.00" y="1027.58" width="4" height="5.50"/><rect x="1256.00" y="1045.92" width="4" height="5.50"/><rect x="1256.00" y="1064.27" width="4" height="5.50"/><rect x="1256.00" y="1082.61" width="4" height="5.50"/><rect x="1256.00" y="1100.95" width="4" height="5.50"/><rect x="1256.00" y="1119.29" width="4" height="5.50"/><rect x="1256.00" y="1137.64" width="4" height="5.50"/><rect x="1256.00" y="1155.98" width="4" height="5.50"/><rect x="1256.00" y="1174.32" width="4" height="5.50"/><rect x="1256.00" y="1192.67" width="4" height="5.50"/><rect x="1256.00" y="1211.01" width="4" height="5.50"/><rect x="1256.00" y="1229.35" width="4" height="5.50"/><rect x="1256.00" y="1247.70" width="4" height="5.50"/><rect x="1256.00" y="1266.04" width="4" height="5.50"/><rect x="1256.00" y="1284.38" width="4" height="5.50"/><rect x="1256.00" y="1302.72" width="4" height="5.50"/><rect x="1256.00" y="1321.07" width="4" height="5.50"/><rect x="1256.00" y="1339.41" width="4" height="5.50"/><rect x="1256.00" y="1357.75" width="4" height="5.50"/><rect x="1256.00" y="1376.10" width="4" height="5.50"/><rect x="1256.00" y="1394.44" width="4" height="3.56"/>
</g>
<g fill="#262626" shape-rendering="crispEdges">
<rect x="178" y="40" width="5" height="1360"/>
<rect x="180" y="1398" width="1080" height="4"/>
<rect x="180" y="1228" width="16" height="4"/>
<rect x="180" y="1058" width="16" height="4"/>
<rect x="180" y="888" width="16" height="4"/>
<rect x="180" y="719" width="16" height="4"/>
<rect x="180" y="549" width="16" height="4"/>
<rect x="180" y="380" width="16" height="4"/>
<rect x="180" y="210" width="16" height="4"/>
<rect x="180" y="40" width="16" height="4"/>
<rect x="394" y="1384" width="4" height="16"/>
<rect x="609" y="1384" width="4" height="16"/>
<rect x="825" y="1384" width="4" height="16"/>
<rect x="1041" y="1384" width="4" height="16"/>
<rect x="1256" y="1384" width="4" height="16"/>
</g>
<g fill="#0000ff" shape-rendering="crispEdges">
<path d="M174.6 39.5L178.6 32.98H218.2L222.2 39.5L218.2 46.02H178.6ZM174.6 108.5L178.6 101.98H227.8L231.8 108.5L227.8 115.02H178.6ZM174.6 177.5L178.6 170.98H237.0L241.0 177.5L237.0 184.02H178.6ZM174.6 246.5L178.6 239.98H251.0L255.0 246.5L251.0 253.02H178.6ZM174.6 315.5L178.6 308.98H264.0L268.0 315.5L264.0 322.02H178.6ZM174.6 379.5L178.6 372.98H277.9L281.9 379.5L277.9 386.02H178.6ZM174.6 448.5L178.6 441.98H297.0L301.0 448.5L297.0 455.02H178.6ZM174.6 516.5L178.6 509.98H292.9L296.9 516.5L292.9 523.02H178.6ZM290.5 516.5L294.5 509.98H320.0L324.0 516.5L320.0 523.02H294.5ZM174.6 585.5L178.6 578.98H333.6L337.6 585.5L333.6 592.02H178.6ZM331.2 585.5L335.2 578.98H342.8L346.8 585.5L342.8 592.02H335.2ZM174.6 654.5L178.6 647.98H370.1L374.1 654.5L370.1 661.02H178.6ZM174.6 718.5L178.6 711.98H384.6L388.6 718.5L384.6 725.02H178.6ZM386.3 718.5L390.3 711.98H402.4L406.4 718.5L402.4 725.02H390.3ZM174.6 755.5L178.6 748.98H416.1L420.1 755.5L416.1 762.02H178.6ZM174.6 787.5L178.6 780.98H416.4L420.4 787.5L416.4 794.02H178.6ZM418.2 787.5L422.2 780.98H430.0L434.0 787.5L430.0 794.02H422.2ZM174.6 823.5L178.6 816.98H429.8L433.8 823.5L429.8 830.02H178.6ZM438.2 823.5L442.2 816.98H449.0L453.0 823.5L449.0 830.02H442.2ZM174.6 856.5L178.6 849.98H449.0L453.0 856.5L449.0 863.02H178.6ZM456.3 856.5L460.3 849.98H466.8L470.8 856.5L466.8 863.02H460.3ZM174.6 888.5L178.6 881.98H458.6L462.6 888.5L458.6 895.02H178.6ZM456.2 888.5L460.2 881.98H467.8L471.8 888.5L467.8 895.02H460.2ZM469.6 888.5L473.6 881.98H484.8L488.8 888.5L484.8 895.02H473.6ZM174.6 924.5L178.6 917.98H494.2L498.2 924.5L494.2 931.02H178.6ZM491.8 924.5L495.8 917.98H503.9L507.9 924.5L503.9 931.02H495.8ZM174.6 956.5L178.6 949.98H439.7L443.7 956.5L439.7 963.02H178.6ZM437.3 956.5L441.3 949.98H526.7L530.7 956.5L526.7 963.02H441.3ZM174.6 994.5L178.6 987.98H555.1L559.1 994.5L555.1 1001.02H178.6ZM556.9 994.5L560.9 987.98H568.1L572.1 994.5L568.1 1001.02H560.9ZM180.1 1026.5L184.1 1019.98H527.2L531.2 1026.5L527.2 1033.02H184.1ZM529.0 1026.5L533.0 1019.98H591.0L595.0 1026.5L591.0 1033.02H533.0ZM608.2 1026.5L612.2 1019.98H618.9L622.9 1026.5L618.9 1033.02H612.2ZM180.1 1058.5L184.1 1051.98H627.9L631.9 1058.5L627.9 1065.02H184.1ZM654.2 1058.5L658.2 1051.98H665.1L669.1 1058.5L665.1 1065.02H658.2ZM185.1 1076.5L189.1 1069.98H559.2L563.2 1076.5L559.2 1083.02H189.1ZM556.8 1076.5L560.8 1069.98H573.2L577.2 1076.5L573.2 1083.02H560.8ZM570.8 1076.5L574.8 1069.98H597.2L601.2 1076.5L597.2 1083.02H574.8ZM594.8 1076.5L598.8 1069.98H643.2L647.2 1076.5L643.2 1083.02H598.8ZM640.8 1076.5L644.8 1069.98H651.3L655.3 1076.5L651.3 1083.02H644.8ZM667.9 1076.5L671.9 1069.98H679.3L683.3 1076.5L679.3 1083.02H671.9ZM189.4 1094.5L193.4 1087.98H587.7L591.7 1094.5L587.7 1101.02H193.4ZM585.3 1094.5L589.3 1087.98H647.6L651.6 1094.5L647.6 1101.02H589.3ZM649.4 1094.5L653.4 1087.98H661.8L665.8 1094.5L661.8 1101.02H653.4ZM658.8 1094.5L662.8 1087.98H669.8L673.8 1094.5L669.8 1101.02H662.8ZM677.8 1094.5L681.8 1087.98H688.5L692.5 1094.5L688.5 1101.02H681.8ZM189.0 1113.5L193.0 1106.98H665.6L669.6 1113.5L665.6 1120.02H193.0ZM667.4 1113.5L671.4 1106.98H683.5L687.5 1113.5L683.5 1120.02H671.4ZM681.1 1113.5L685.1 1106.98H697.0L701.0 1113.5L697.0 1120.02H685.1ZM189.4 1127.0L193.4 1120.98H587.7L591.7 1127.0L587.7 1133.02H193.4ZM585.3 1127.0L589.3 1120.98H610.2L614.2 1127.0L610.2 1133.02H589.3ZM607.8 1127.0L611.8 1120.98H629.2L633.2 1127.0L629.2 1133.02H611.8ZM626.8 1127.0L630.8 1120.98H643.2L647.2 1127.0L643.2 1133.02H630.8ZM640.8 1127.0L644.8 1120.98H661.7L665.7 1127.0L661.7 1133.02H644.8ZM659.3 1127.0L663.3 1120.98H682.8L686.8 1127.0L682.8 1133.02H663.3ZM691.6 1127.0L695.6 1120.98H702.6L706.6 1127.0L702.6 1133.02H695.6ZM704.4 1127.0L708.4 1120.98H716.0L720.0 1127.0L716.0 1133.02H708.4ZM189.0 1145.5L193.0 1138.98H200.2L204.2 1145.5L200.2 1152.02H193.0ZM197.8 1145.5L201.8 1138.98H688.2L692.2 1145.5L688.2 1152.02H201.8ZM685.8 1145.5L689.8 1138.98H706.9L710.9 1145.5L706.9 1152.02H689.8ZM708.7 1145.5L712.7 1138.98H726.2L730.2 1145.5L726.2 1152.02H712.7ZM723.8 1145.5L727.8 1138.98H733.8L737.8 1145.5L733.8 1152.02H727.8ZM189.4 1163.5L193.4 1156.98H200.2L204.2 1163.5L200.2 1170.02H193.4ZM197.8 1163.5L201.8 1156.98H721.6L725.6 1163.5L721.6 1170.02H201.8ZM719.2 1163.5L723.2 1156.98H735.8L739.8 1163.5L735.8 1170.02H723.2ZM733.4 1163.5L737.4 1156.98H744.0L748.0 1163.5L744.0 1170.02H737.4ZM745.8 1163.5L749.8 1156.98H757.4L761.4 1163.5L757.4 1170.02H749.8ZM189.0 1177.5L193.0 1170.98H200.2L204.2 1177.5L200.2 1184.02H193.0ZM197.8 1177.5L201.8 1170.98H209.6L213.6 1177.5L209.6 1184.02H201.8ZM207.2 1177.5L211.2 1170.98H651.7L655.7 1177.5L651.7 1184.02H211.2ZM649.3 1177.5L653.3 1170.98H711.8L715.8 1177.5L711.8 1184.02H653.3ZM713.6 1177.5L717.6 1170.98H744.2L748.2 1177.5L744.2 1184.02H717.6ZM741.8 1177.5L745.8 1170.98H762.5L766.5 1177.5L762.5 1184.02H745.8ZM764.2 1177.5L768.2 1170.98H775.2L779.2 1177.5L775.2 1184.02H768.2ZM189.4 1195.5L193.4 1188.98H201.0L205.0 1195.5L201.0 1202.02H193.4ZM202.8 1195.5L206.8 1188.98H762.5L766.5 1195.5L762.5 1202.02H206.8ZM764.2 1195.5L768.2 1188.98H781.2L785.2 1195.5L781.2 1202.02H768.2ZM778.8 1195.5L782.8 1188.98H794.2L798.2 1195.5L794.2 1202.02H782.8ZM194.1 1214.0L198.1 1207.98H725.2L729.2 1214.0L725.2 1220.02H198.1ZM722.8 1214.0L726.8 1207.98H748.8L752.8 1214.0L748.8 1220.02H726.8ZM746.4 1214.0L750.4 1207.98H804.5L808.5 1214.0L804.5 1220.02H750.4ZM802.1 1214.0L806.1 1207.98H811.9L815.9 1214.0L811.9 1220.02H806.1ZM194.1 1227.5L198.1 1220.98H205.5L209.5 1227.5L205.5 1234.02H198.1ZM207.3 1227.5L211.3 1220.98H752.2L756.2 1227.5L752.2 1234.02H211.3ZM749.8 1227.5L753.8 1220.98H817.9L821.9 1227.5L817.9 1234.02H753.8ZM819.7 1227.5L823.7 1220.98H834.9L838.9 1227.5L834.9 1234.02H823.7ZM198.0 1246.5L202.0 1239.98H209.9L213.9 1246.5L209.9 1253.02H202.0ZM207.5 1246.5L211.5 1239.98H697.9L701.9 1246.5L697.9 1253.02H211.5ZM695.5 1246.5L699.5 1239.98H726.2L730.2 1246.5L726.2 1253.02H699.5ZM723.8 1246.5L727.8 1239.98H766.2L770.2 1246.5L766.2 1253.02H727.8ZM763.8 1246.5L767.8 1239.98H835.2L839.2 1246.5L835.2 1253.02H767.8ZM832.8 1246.5L836.8 1239.98H849.2L853.2 1246.5L849.2 1253.02H836.8ZM846.8 1246.5L850.8 1239.98H858.0L862.0 1246.5L858.0 1253.02H850.8ZM198.0 1264.5L202.0 1257.98H209.8L213.8 1264.5L209.8 1271.02H202.0ZM211.7 1264.5L215.7 1257.98H803.2L807.2 1264.5L803.2 1271.02H215.7ZM800.8 1264.5L804.8 1257.98H849.2L853.2 1264.5L849.2 1271.02H804.8ZM846.8 1264.5L850.8 1257.98H873.0L877.0 1264.5L873.0 1271.02H850.8ZM874.8 1264.5L878.8 1257.98H885.7L889.7 1264.5L885.7 1271.02H878.8ZM203.0 1282.5L207.0 1275.98H214.8L218.8 1282.5L214.8 1289.02H207.0ZM216.6 1282.5L220.6 1275.98H803.2L807.2 1282.5L803.2 1289.02H220.6ZM800.8 1282.5L804.8 1275.98H880.5L884.5 1282.5L880.5 1289.02H804.8ZM889.0 1282.5L893.0 1275.98H904.2L908.2 1282.5L904.2 1289.02H893.0ZM208.1 1296.5L212.1 1289.98H218.9L222.9 1296.5L218.9 1303.02H212.1ZM216.5 1296.5L220.5 1289.98H637.2L641.2 1296.5L637.2 1303.02H220.5ZM634.8 1296.5L638.8 1289.98H808.2L812.2 1296.5L808.2 1303.02H638.8ZM810.0 1296.5L814.0 1289.98H835.2L839.2 1296.5L835.2 1303.02H814.0ZM832.8 1296.5L836.8 1289.98H908.7L912.7 1296.5L908.7 1303.02H836.8ZM921.2 1296.5L925.2 1289.98H931.9L935.9 1296.5L931.9 1303.02H925.2ZM212.3 1314.5L216.3 1307.98H678.9L682.9 1314.5L678.9 1321.02H216.3ZM676.5 1314.5L680.5 1307.98H757.2L761.2 1314.5L757.2 1321.02H680.5ZM754.8 1314.5L758.8 1307.98H835.2L839.2 1314.5L835.2 1321.02H758.8ZM832.8 1314.5L836.8 1307.98H886.7L890.7 1314.5L886.7 1321.02H836.8ZM888.5 1314.5L892.5 1307.98H936.0L940.0 1314.5L936.0 1321.02H892.5ZM949.0 1314.5L953.0 1307.98H959.6L963.6 1314.5L959.6 1321.02H953.0ZM212.0 1333.5L216.0 1326.98H601.7L605.7 1333.5L601.7 1340.02H216.0ZM603.5 1333.5L607.5 1326.98H931.9L935.9 1333.5L931.9 1340.02H607.5ZM940.0 1333.5L944.0 1326.98H951.0L955.0 1333.5L951.0 1340.02H944.0ZM948.6 1333.5L952.6 1326.98H978.1L982.1 1333.5L978.1 1340.02H952.6ZM216.9 1347.0L220.9 1340.98H752.2L756.2 1347.0L752.2 1353.02H220.9ZM749.8 1347.0L753.8 1340.98H795.2L799.2 1347.0L795.2 1353.02H753.8ZM792.8 1347.0L796.8 1340.98H949.7L953.7 1347.0L949.7 1353.02H796.8ZM958.0 1347.0L962.0 1340.98H974.1L978.1 1347.0L974.1 1353.02H962.0ZM975.9 1347.0L979.9 1340.98H988.4L992.4 1347.0L988.4 1353.02H979.9ZM990.1 1347.0L994.1 1340.98H1001.1L1005.1 1347.0L1001.1 1353.02H994.1ZM1018.1 1347.0L1022.1 1340.98H1029.0L1033.0 1347.0L1029.0 1353.02H1022.1ZM216.9 1365.5L220.9 1358.98H951.1L955.1 1365.5L951.1 1372.02H220.9ZM952.9 1365.5L956.9 1358.98H968.6L972.6 1365.5L968.6 1372.02H956.9ZM976.9 1365.5L980.9 1358.98H996.6L1000.6 1365.5L996.6 1372.02H980.9ZM1008.9 1365.5L1012.9 1358.98H1023.8L1027.8 1365.5L1023.8 1372.02H1012.9ZM1041.3 1365.5L1045.3 1358.98H1052.0L1056.0 1365.5L1052.0 1372.02H1045.3ZM221.0 1383.5L225.0 1376.98H232.9L236.9 1383.5L232.9 1390.02H225.0ZM230.5 1383.5L234.5 1376.98H702.2L706.2 1383.5L702.2 1390.02H234.5ZM699.8 1383.5L703.8 1376.98H899.9L903.9 1383.5L899.9 1390.02H703.8ZM901.7 1383.5L905.7 1376.98H1014.8L1018.8 1383.5L1014.8 1390.02H905.7ZM1031.9 1383.5L1035.9 1376.98H1042.5L1046.5 1383.5L1042.5 1390.02H1035.9ZM1063.8 1383.5L1067.8 1376.98H1084.0L1088.0 1383.5L1084.0 1390.02H1067.8ZM226.0 1397.5L230.0 1390.98H241.5L245.5 1397.5L241.5 1404.02H230.0ZM239.1 1397.5L243.1 1390.98H702.2L706.2 1397.5L702.2 1404.02H243.1ZM699.8 1397.5L703.8 1390.98H776.2L780.2 1397.5L776.2 1404.02H703.8ZM773.8 1397.5L777.8 1390.98H835.2L839.2 1397.5L835.2 1404.02H777.8ZM832.8 1397.5L836.8 1390.98H997.0L1001.0 1397.5L997.0 1404.02H836.8ZM998.8 1397.5L1002.8 1390.98H1019.7L1023.7 1397.5L1019.7 1404.02H1002.8ZM1017.3 1397.5L1021.3 1390.98H1034.3L1038.3 1397.5L1034.3 1404.02H1021.3ZM1036.1 1397.5L1040.1 1390.98H1047.9L1051.9 1397.5L1047.9 1404.02H1040.1ZM1045.5 1397.5L1049.5 1390.98H1057.0L1061.0 1397.5L1057.0 1404.02H1049.5ZM1058.8 1397.5L1062.8 1390.98H1070.7L1074.7 1397.5L1070.7 1404.02H1062.8ZM1068.3 1397.5L1072.3 1390.98H1079.5L1083.5 1397.5L1079.5 1404.02H1072.3ZM1114.8 1397.5L1118.8 1390.98H1130.3L1134.3 1397.5L1130.3 1404.02H1118.8ZM1132.1 1397.5L1136.1 1390.98H1143.9L1147.9 1397.5L1143.9 1404.02H1136.1Z"/>
</g>
<g fill="none" stroke-width="20" stroke-linejoin="miter" shape-rendering="crispEdges">
<polyline stroke="#ff0000" points="188.11,42.00 187.82,48.00 187.54,54.00 187.39,60.00 187.49,66.00 187.59,72.00 187.94,78.00 188.42,84.00 188.91,90.00 189.14,96.00 189.38,102.00 189.61,108.00 189.86,114.00 190.10,120.00 190.23,126.00 190.37,132.00 190.51,138.00 190.65,144.00 190.80,150.00 190.99,156.00 191.19,162.00 191.39,168.00 191.60,174.00 191.81,180.00 192.02,186.00 192.24,192.00 192.46,198.00 192.68,204.00 192.91,210.00 193.14,216.00 193.38,222.00 193.62,228.00 193.86,234.00 194.11,240.00 194.37,246.00 194.63,252.00 194.89,258.00 195.16,264.00 195.43,270.00 195.71,276.00 195.99,282.00 196.28,288.00 196.58,294.00 196.88,300.00 197.18,306.00 197.49,312.00 197.81,318.00 198.13,324.00 198.45,330.00 198.46,336.00 198.47,342.00 198.60,348.00 198.84,354.00 199.08,360.00 199.33,366.00 199.59,372.00 199.85,378.00 200.12,384.00 200.40,390.00 200.68,396.00 201.01,402.00 201.42,408.00 201.83,414.00 202.26,420.00 202.69,426.00 203.13,432.00 203.58,438.00 204.03,444.00 204.50,450.00 204.97,456.00 205.45,462.00 205.92,468.00 206.37,474.00 206.83,480.00 207.29,486.00 207.77,492.00 208.26,498.00 208.76,504.00 209.26,510.00 209.78,516.00 210.31,522.00 210.85,528.00 211.40,534.00 211.96,540.00 212.53,546.00 213.12,552.00 213.71,558.00 214.32,564.00 214.94,570.00 215.58,576.00 216.22,582.00 216.88,588.00 217.55,594.00 218.28,600.00 219.05,606.00 219.83,612.00 220.62,618.00 221.43,624.00 222.25,630.00 223.09,636.00 223.95,642.00 224.81,648.00 225.70,654.00 226.60,660.00 227.52,666.00 228.45,672.00 229.40,678.00 230.37,684.00 231.36,690.00 232.36,696.00 233.43,702.00 234.59,708.00 235.78,714.00 236.98,720.00 238.24,726.00 239.53,732.00 240.84,738.00 242.17,744.00 243.52,750.00 244.89,756.00 246.28,762.00 247.69,768.00 249.13,774.00 250.59,780.00 252.07,786.00 253.57,792.00 255.11,798.00 256.70,804.00 258.31,810.00 259.94,816.00 261.69,822.00 263.47,828.00 265.28,834.00 267.11,840.00 269.03,846.00 271.02,852.00 273.03,858.00 275.08,864.00 277.15,870.00 279.26,876.00 281.39,882.00 283.56,888.00 285.77,894.00 288.00,900.00 289.96,906.00 291.96,912.00 294.02,918.00 296.13,924.00 298.28,930.00 300.46,936.00 302.68,942.00 304.94,948.00 307.24,954.00 309.59,960.00 311.97,966.00 314.39,972.00 316.86,978.00 319.37,984.00 321.92,990.00 324.52,996.00 327.26,1002.00 330.23,1008.00 333.26,1014.00 336.33,1020.00 339.18,1026.00 341.94,1032.00 344.68,1038.00 347.32,1044.00 350.01,1050.00 352.84,1056.00 355.78,1062.00 358.77,1068.00 361.82,1074.00 364.93,1080.00 368.09,1086.00 371.32,1092.00 374.61,1098.00 377.96,1104.00 381.35,1110.00 384.80,1116.00 388.33,1122.00 391.92,1128.00 395.57,1134.00 399.30,1140.00 403.10,1146.00 406.97,1152.00 410.92,1158.00 414.94,1164.00 419.04,1170.00 423.21,1176.00 427.47,1182.00 431.72,1188.00 435.89,1194.00 440.15,1200.00 444.49,1206.00 448.92,1212.00 453.44,1218.00 458.05,1224.00 462.75,1230.00 467.54,1236.00 471.90,1242.00 476.24,1248.00 480.68,1254.00 485.23,1260.00 486.77,1262.00 514.50,1296.00 534.50,1326.00 560.80,1366.00 571.20,1381.80 600.80,1399.70"/>
<polyline stroke="#00ff00" points="188.11,42.00 188.17,46.00 188.23,50.00 188.29,54.00 188.35,58.00 188.42,62.00 188.49,66.00 188.55,70.00 188.62,74.00 188.69,78.00 188.76,82.00 188.83,86.00 188.91,90.00 188.98,94.00 189.06,98.00 189.14,102.00 189.21,106.00 189.29,110.00 189.38,114.00 189.46,118.00 189.54,122.00 189.63,126.00 189.71,130.00 189.80,134.00 189.89,138.00 189.98,142.00 190.08,146.00 190.17,150.00 190.30,154.00 190.42,158.00 190.55,162.00 190.68,166.00 190.81,170.00 190.95,174.00 191.08,178.00 191.22,182.00 191.36,186.00 191.50,190.00 191.64,194.00 191.78,198.00 191.93,202.00 192.07,206.00 192.22,210.00 192.37,214.00 192.53,218.00 192.68,222.00 192.84,226.00 193.00,230.00 193.16,234.00 193.32,238.00 193.48,242.00 193.65,246.00 193.82,250.00 193.99,254.00 194.16,258.00 194.33,262.00 194.51,266.00 194.69,270.00 194.87,274.00 195.05,278.00 195.24,282.00 195.43,286.00 195.62,290.00 195.81,294.00 196.01,298.00 196.20,302.00 196.40,306.00 196.60,310.00 196.81,314.00 197.02,318.00 197.23,322.00 197.44,326.00 197.65,330.00 197.87,334.00 198.09,338.00 198.31,342.00 198.54,346.00 198.77,350.00 199.00,354.00 199.23,358.00 199.47,362.00 199.71,366.00 199.96,370.00 200.20,374.00 200.45,378.00 200.70,382.00 200.96,386.00 201.22,390.00 201.48,394.00 201.74,398.00 202.01,402.00 202.28,406.00 202.56,410.00 202.83,414.00 203.12,418.00 203.40,422.00 203.69,426.00 203.98,430.00 204.28,434.00 204.58,438.00 204.88,442.00 205.19,446.00 205.50,450.00 205.81,454.00 206.13,458.00 206.45,462.00 206.78,466.00 207.11,470.00 207.44,474.00 207.78,478.00 208.12,482.00 208.47,486.00 208.82,490.00 209.18,494.00 209.54,498.00 209.90,502.00 210.27,506.00 210.64,510.00 211.02,514.00 211.40,518.00 211.79,522.00 212.18,526.00 212.58,530.00 212.98,534.00 213.39,538.00 213.80,542.00 214.21,546.00 214.64,550.00 215.06,554.00 215.50,558.00 215.93,562.00 216.38,566.00 216.83,570.00 217.28,574.00 217.74,578.00 218.20,582.00 218.68,586.00 219.15,590.00 219.63,594.00 220.12,598.00 220.62,602.00 221.12,606.00 221.63,610.00 222.14,614.00 222.66,618.00 223.18,622.00 223.72,626.00 224.26,630.00 224.80,634.00 225.35,638.00 225.91,642.00 226.48,646.00 227.05,650.00 227.63,654.00 228.22,658.00 228.81,662.00 229.42,666.00 230.03,670.00 230.64,674.00 231.27,678.00 231.90,682.00 232.54,686.00 233.19,690.00 233.84,694.00 234.51,698.00 235.18,702.00 235.86,706.00 236.55,710.00 237.24,714.00 237.95,718.00 238.66,722.00 239.39,726.00 240.12,730.00 240.86,734.00 241.61,738.00 242.37,742.00 243.14,746.00 243.92,750.00 244.71,754.00 245.50,758.00 246.31,762.00 247.13,766.00 247.96,770.00 248.79,774.00 249.64,778.00 250.50,782.00 251.37,786.00 252.25,790.00 253.14,794.00 254.04,798.00 254.96,802.00 255.88,806.00 256.82,810.00 257.76,814.00 258.72,818.00 259.69,822.00 260.67,826.00 261.67,830.00 262.68,834.00 263.70,838.00 264.73,842.00 265.77,846.00 266.83,850.00 267.90,854.00 268.98,858.00 270.08,862.00 271.19,866.00 272.32,870.00 273.45,874.00 274.61,878.00 275.77,882.00 276.95,886.00 278.15,890.00 279.36,894.00 280.58,898.00 281.82,902.00 283.08,906.00 284.35,910.00 285.64,914.00 286.94,918.00 288.26,922.00 289.59,926.00 290.94,930.00 292.31,934.00 293.70,938.00 295.10,942.00 296.52,946.00 297.95,950.00 299.41,954.00 300.88,958.00 302.37,962.00 303.88,966.00 305.41,970.00 306.95,974.00 308.52,978.00 310.10,982.00 311.71,986.00 313.33,990.00 314.97,994.00 316.64,998.00 318.32,1002.00 320.03,1006.00 321.75,1010.00 323.50,1014.00 325.27,1018.00 327.06,1022.00 328.88,1026.00 330.71,1030.00 332.57,1034.00 334.45,1038.00 336.35,1042.00 338.28,1046.00 340.23,1050.00 342.21,1054.00 344.21,1058.00 346.23,1062.00 348.28,1066.00 350.36,1070.00 352.46,1074.00 354.59,1078.00 356.74,1082.00 358.92,1086.00 361.12,1090.00 363.36,1094.00 365.62,1098.00 367.90,1102.00 370.22,1106.00 372.57,1110.00 374.94,1114.00 377.34,1118.00 379.78,1122.00 382.24,1126.00 384.73,1130.00 387.26,1134.00 389.81,1138.00 392.40,1142.00 395.02,1146.00 397.67,1150.00 400.35,1154.00 403.07,1158.00 405.82,1162.00 408.60,1166.00 411.42,1170.00 414.28,1174.00 417.17,1178.00 420.09,1182.00 423.05,1186.00 426.05,1190.00 429.08,1194.00 432.15,1198.00 435.26,1202.00 438.41,1206.00 441.59,1210.00 444.82,1214.00 448.08,1218.00 451.39,1222.00 454.73,1226.00 458.12,1230.00 461.55,1234.00 465.02,1238.00 468.54,1242.00 472.09,1246.00 475.69,1250.00 479.34,1254.00 483.03,1258.00 486.77,1262.00 490.55,1266.00 494.38,1270.00 498.25,1274.00 502.18,1278.00 506.15,1282.00 510.17,1286.00 514.24,1290.00 518.36,1294.00 522.53,1298.00 526.76,1302.00 531.03,1306.00 535.36,1310.00 539.74,1314.00 544.18,1318.00 548.67,1322.00 553.21,1326.00 557.81,1330.00 562.47,1334.00 567.19,1338.00 571.96,1342.00 576.79,1346.00 581.69,1350.00 586.64,1354.00 591.65,1358.00 596.73,1362.00 601.87,1366.00 607.07,1370.00 612.33,1374.00 617.66,1378.00 623.06,1382.00 628.52,1386.00 634.05,1390.00 639.65,1394.00 645.32,1398.00 648.18,1400.00"/>
</g>
<g shape-rendering="crispEdges">
<rect x="298" y="100" width="899" height="242" fill="#fff"/>
<g fill="#262626">
<rect x="298" y="100" width="5" height="242"/><rect x="1192" y="100" width="5" height="242"/>
<rect x="298" y="100" width="899" height="4"/><rect x="298" y="338" width="899" height="4"/>
</g>
<polygon points="446.0,150.0 440.4,136.6 427.0,131.0 413.6,136.6 408.0,150.0 413.6,163.4 427.0,169.0 440.4,163.4" fill="#0000ff"/>
<rect x="336" y="211" width="185" height="20" fill="#ff0000"/>
<rect x="336" y="284" width="185" height="19" fill="#00ff00"/>
</g>
<defs><filter id="bin" x="0" y="0" width="100%" height="100%" filterUnits="userSpaceOnUse" primitiveUnits="userSpaceOnUse"><feComponentTransfer><feFuncA type="discrete" tableValues="0 1"/></feComponentTransfer></filter></defs>
<g font-size="60" fill="#000" stroke="#000" stroke-width="0.8" stroke-linejoin="round" filter="url(#bin)">
<text transform="translate(538.50 168.80) scale(1 1.022)">ECMWF</text><text transform="translate(765.11 168.80) scale(1 0.972)">-interim dataset</text>
<text transform="translate(538.50 241.80) scale(1 1.022)">A</text><text transform="translate(577.44 241.80) scale(1 0.972)">veraged profile</text>
<text transform="translate(538.50 313.80) scale(1 1.022)">E</text><text transform="translate(578.52 313.80) scale(1 0.972)">xponential fitting</text>
</g>
<g font-size="60" fill="#262626" stroke="#262626" stroke-width="0.8" stroke-linejoin="round">
<text transform="translate(151.7 1425.2) scale(1 1.022)" text-anchor="end">0</text>
<path d="M763 0H583V1147Q518 1085 412.5 1023T223 930V1104Q374 1175 487 1276T647 1472H763Z" transform="translate(118.33 1254.95) scale(0.02930 -0.02856)" fill="#262626"/>
<text transform="translate(151.7 1085.7) scale(1 1.022)" text-anchor="end">2</text>
<text transform="translate(151.7 916.0) scale(1 1.022)" text-anchor="end">3</text>
<text transform="translate(151.7 746.2) scale(1 1.022)" text-anchor="end">4</text>
<text transform="translate(151.7 576.5) scale(1 1.022)" text-anchor="end">5</text>
<text transform="translate(151.7 406.7) scale(1 1.022)" text-anchor="end">6</text>
<text transform="translate(151.7 236.9) scale(1 1.022)" text-anchor="end">7</text>
<text transform="translate(151.7 67.2) scale(1 1.022)" text-anchor="end">8</text>
<text transform="translate(178.8 1488.2) scale(1 1.022)" text-anchor="middle">0</text>
<text transform="translate(394.4 1488.2) scale(1 1.022)" text-anchor="middle">2</text>
<text transform="translate(610.0 1488.2) scale(1 1.022)" text-anchor="middle">4</text>
<text transform="translate(825.6 1488.2) scale(1 1.022)" text-anchor="middle">6</text>
<text transform="translate(1041.2 1488.2) scale(1 1.022)" text-anchor="middle">8</text>
<path d="M763 0H583V1147Q518 1085 412.5 1023T223 930V1104Q374 1175 487 1276T647 1472H763Z" transform="translate(1223.43 1487.70) scale(0.02930 -0.02856)" fill="#262626"/>
<text transform="translate(1256.80 1488.2) scale(1 1.022)">0</text>
</g>
<g font-size="73.7" fill="#262626">
<text transform="translate(82.00 906.32) rotate(-90) scale(1 1.045)">H</text>
<text transform="translate(82.00 853.11) rotate(-90) scale(1 0.985)">eight [km]</text>
<text transform="translate(101.70 1597.00) scale(1 1.045)">H</text>
<text transform="translate(156.80 1632.80) scale(1 1.03)" font-size="54.0" stroke="#262626" stroke-width="0.5">2</text>
<text transform="translate(189.40 1597.00) scale(1 1.045)">O</text>
<text xml:space="preserve" transform="translate(246.72 1597.00) scale(1 0.985)"> concentration [×</text>
<path d="M763 0H583V1147Q518 1085 412.5 1023T223 930V1104Q374 1175 487 1276T647 1472H763Z" transform="translate(793.58 1597.00) scale(0.03599 -0.03599)" fill="#262626"/>
<text transform="translate(834.56 1597.00) scale(1 1.045)">0</text>
<path d="M763 0H583V1147Q518 1085 412.5 1023T223 930V1104Q374 1175 487 1276T647 1472H763Z" transform="translate(875.20 1560.20) scale(0.02689 -0.02689)" fill="#262626"/>
<text transform="translate(907.43 1560.40) scale(1 1.03)" font-size="54.0" stroke="#262626" stroke-width="0.5">7</text>
<text transform="translate(960.00 1597.00) scale(1 0.985)">molec/cm</text>
<text transform="translate(1276.80 1560.40) scale(1 1.03)" font-size="54.0" stroke="#262626" stroke-width="0.5">3</text>
<text transform="translate(1310.00 1597.00) scale(1 1.0)">]</text>
</g>
</svg>
</body></html>
